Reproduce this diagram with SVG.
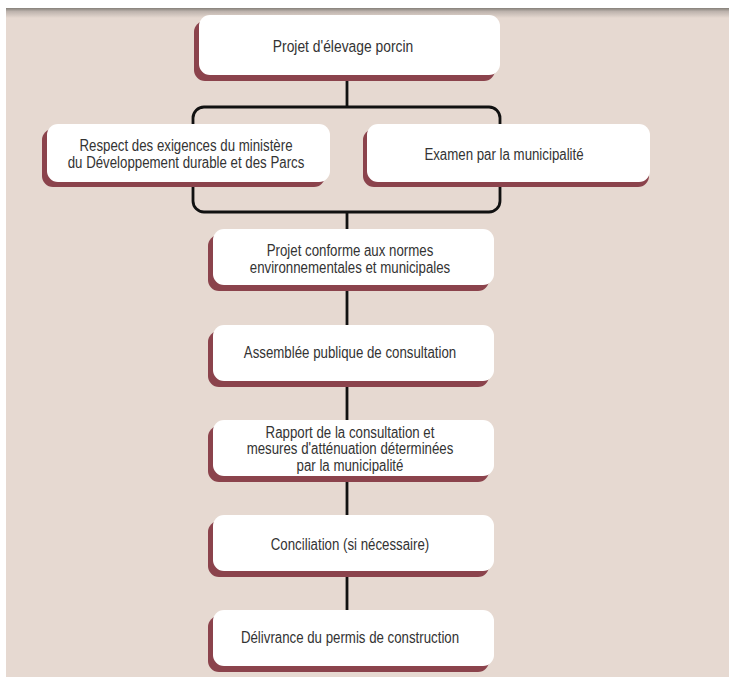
<svg xmlns="http://www.w3.org/2000/svg" width="729" height="677" viewBox="0 0 729 677">
<style>
.sh{fill:#8B434C}
.bx{fill:#FFFFFF}
.t{font-family:"Liberation Sans",Arial,sans-serif;font-size:15.8px;fill:#333333;text-anchor:middle}
.tb{font-size:16.5px}
.c{fill:none;stroke:#111111;stroke-width:2.8}
</style>
<defs>
<linearGradient id="topsh" x1="0" y1="0" x2="0" y2="1">
<stop offset="0" stop-color="#858079"/>
<stop offset="0.35" stop-color="#BDB3AD"/>
<stop offset="1" stop-color="#E6D9D1"/>
</linearGradient>
</defs>
<rect x="0" y="0" width="729" height="677" fill="#FFFFFF"/>
<rect x="6" y="8" width="723" height="669" fill="#E6D9D1"/>
<rect x="6" y="8" width="723" height="10" fill="url(#topsh)"/>
<g id="connectors">
<line class="c" x1="347" y1="75" x2="347" y2="107"/>
<rect class="c" x="193" y="107" width="307" height="105" rx="11"/>
<line class="c" x1="347" y1="212" x2="347" y2="230"/>
<line class="c" x1="347" y1="285" x2="347" y2="325"/>
<line class="c" x1="347" y1="381" x2="347" y2="420"/>
<line class="c" x1="347" y1="476" x2="347" y2="515"/>
<line class="c" x1="347" y1="571" x2="347" y2="610"/>
</g>
<g id="n1">
<rect class="sh" x="194" y="21" width="301" height="60" rx="11"/>
<rect class="bx" x="199" y="15" width="301" height="60" rx="11"/>
<text class="t tb" transform="translate(343,52) scale(0.84,1)">Projet d'élevage porcin</text>
</g>
<g id="n2">
<rect class="sh" x="42" y="129" width="283" height="58" rx="11"/>
<rect class="bx" x="47" y="124" width="283" height="58" rx="11"/>
<text class="t" transform="translate(186,151) scale(0.84,1)"><tspan x="0" y="0">Respect des exigences du ministère</tspan><tspan x="0" y="17">du Développement durable et des Parcs</tspan></text>
</g>
<g id="n3">
<rect class="sh" x="363" y="129" width="286" height="58" rx="11"/>
<rect class="bx" x="367" y="124" width="283" height="58" rx="11"/>
<text class="t" transform="translate(504,160) scale(0.84,1)">Examen par la municipalité</text>
</g>
<g id="n4">
<rect class="sh" x="208" y="235" width="281" height="56" rx="11"/>
<rect class="bx" x="213" y="229" width="281" height="56" rx="11"/>
<text class="t" transform="translate(350,256) scale(0.84,1)"><tspan x="0" y="0">Projet conforme aux normes</tspan><tspan x="0" y="17.5">environnementales et municipales</tspan></text>
</g>
<g id="n5">
<rect class="sh" x="208" y="331" width="281" height="56" rx="11"/>
<rect class="bx" x="213" y="325" width="281" height="56" rx="11"/>
<text class="t" transform="translate(350,358) scale(0.84,1)">Assemblée publique de consultation</text>
</g>
<g id="n6">
<rect class="sh" x="208" y="426" width="281" height="56" rx="11"/>
<rect class="bx" x="213" y="420" width="281" height="56" rx="11"/>
<text class="t" transform="translate(350,438) scale(0.84,1)"><tspan x="0" y="0">Rapport de la consultation et</tspan><tspan x="0" y="16.5">mesures d'atténuation déterminées</tspan><tspan x="0" y="33">par la municipalité</tspan></text>
</g>
<g id="n7">
<rect class="sh" x="208" y="521" width="281" height="56" rx="11"/>
<rect class="bx" x="213" y="515" width="281" height="56" rx="11"/>
<text class="t" transform="translate(350,550) scale(0.84,1)">Conciliation (si nécessaire)</text>
</g>
<g id="n8">
<rect class="sh" x="208" y="616" width="281" height="56" rx="11"/>
<rect class="bx" x="213" y="610" width="281" height="56" rx="11"/>
<text class="t" transform="translate(350,643) scale(0.84,1)">Délivrance du permis de construction</text>
</g>
</svg>
